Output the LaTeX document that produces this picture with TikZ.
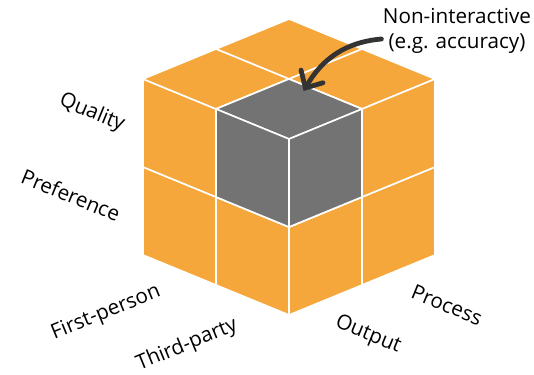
\documentclass[tikz,border=0pt]{standalone}
\usepackage{fontspec}
\setmainfont{Open Sans}
\usepackage{tikz}
\usetikzlibrary{arrows.meta}

\definecolor{cubeorange}{HTML}{F5A73B}
\definecolor{cubegray}{HTML}{737373}
\definecolor{pointergray}{HTML}{333333}

\tikzset{
	face/.style={fill=cubeorange,draw=white,line width=1.2pt,line join=round},
	grayface/.style={face,fill=cubegray},
	axislabel/.style={font=\fontsize{15.5}{19}\selectfont,inner sep=0pt},
	pointer/.style={draw=pointergray,line width=3.6pt,line cap=round,
		-{Straight Barb[length=10pt,width=19pt,line cap=round]}}
}

\begin{document}
\begin{tikzpicture}[x=0.75pt,y=0.75pt]
		\useasboundingbox (0,0) rectangle (534,374);
		\begin{scope}[shift={(289,179)},x={(-54.75pt,-22.5pt)},y={(54.75pt,-22.5pt)},z={(0pt,66pt)}]
		    \foreach \i in {0,1} {
		        \foreach \j in {0,1} {
		            \draw[face] (\i,\j,2) -- (\i+1,\j,2) -- (\i+1,\j+1,2) -- (\i,\j+1,2) -- cycle;
		            \draw[face] (\i,2,\j) -- (\i+1,2,\j) -- (\i+1,2,\j+1) -- (\i,2,\j+1) -- cycle;
		            \draw[face] (2,\i,\j) -- (2,\i+1,\j) -- (2,\i+1,\j+1) -- (2,\i,\j+1) -- cycle;
				};
				};
				\draw[grayface] (1,1,2) -- (2,1,2) -- (2,2,2) -- (1,2,2) -- cycle;
				\draw[grayface] (1,2,1) -- (2,2,1) -- (2,2,2) -- (1,2,2) -- cycle;
				\draw[grayface] (2,1,1) -- (2,2,1) -- (2,2,2) -- (2,1,2) -- cycle;
				\coordinate (tip) at (1.1,1.3,2);
		\end{scope}

				\draw (92,261) node[axislabel,rotate=-22.3] (quality) {Quality};
				\draw (71,179) node[axislabel,rotate=-22.3] (preference) {Preference};
				\draw (106,61) node[axislabel,rotate=22.3] (firstperson) {First-person};
				\draw (187,29) node[axislabel,rotate=22.3] (thirdparty) {Third-party};
				\draw (368,39) node[axislabel,rotate=-22.3] (output) {Output};
				\draw (447,69) node[axislabel,rotate=-22.3] (process) {Process};

				\draw (457,343) node[axislabel,align=center] (note) {Non-interactive\\(e.g. accuracy)};
				\draw[pointer] ([xshift=-1pt,yshift=-6pt]note.west) to[out=185,in=60] (tip);
		\end{tikzpicture}
\end{document}
